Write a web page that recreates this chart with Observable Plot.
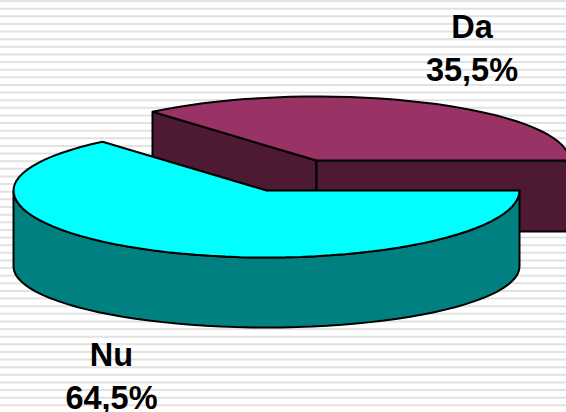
<!DOCTYPE html>
<html>
<head>
<meta charset="utf-8">
<script src="https://cdn.jsdelivr.net/npm/d3@7"></script>
<script src="https://cdn.jsdelivr.net/npm/@observablehq/plot@0.6"></script>
<style>html,body{margin:0;padding:0;background:#fff;overflow:hidden}svg{display:block}</style>
</head>
<body>
<div id="chart"></div>
<script>
const categories = ["Nu", "Da"];
const shares = [64.5, 35.5];

const W = 566, H = 412;
const stripeGap = H / 54;
const stripes = d3.range(54).map(i => 0.5 + i * stripeGap);

// Pie geometry
const rx = 253, ryFront = 67, ryBack = 64, depth = 76, ryBase = 61;
const cyanCenter = [266, 190];
const maroonCenter = [316, 160];
const maroonDepth = 71;

// The 3D view foreshortens angles a little
const view = t => t - 0.047 * Math.sin(2 * t);
const split = view(2 * Math.PI * shares[0] / 100);

const pt = ([cx, cy], t, rf = ryFront, rb = ryBack, dy = 0) => {
  const s = Math.sin(t);
  return {x: cx + rx * Math.cos(t), y: cy + dy + (s > 0 ? rf : rb) * s};
};
const arc = (c, a, b, rf, rb, dy) => {
  const n = Math.max(2, Math.round(Math.abs(b - a) / 0.06));
  return d3.range(n + 1).map(i => pt(c, a + (b - a) * i / n, rf, rb, dy));
};
const closed = p => [...p, p[0]];
const xy = (x, y) => ({x, y});

// Nu slice
const nuTop = closed([xy(...cyanCenter), ...arc(cyanCenter, 0, split)]);
const nuWall = closed([
  ...arc(cyanCenter, 0, Math.PI),
  ...arc(cyanCenter, Math.PI, 0, ryBase, ryBase, depth)
]);

// Da slice
const daTop = closed([xy(...maroonCenter), ...arc(maroonCenter, split, 2 * Math.PI)]);
const corner = pt(maroonCenter, split);
const daLeftWall = closed([
  corner, xy(...maroonCenter),
  xy(maroonCenter[0], maroonCenter[1] + maroonDepth),
  xy(corner.x, corner.y + maroonDepth)
]);
const east = pt(maroonCenter, 0);
const daRightWall = closed([
  xy(...maroonCenter), east,
  xy(east.x, east.y + maroonDepth),
  xy(maroonCenter[0], maroonCenter[1] + maroonDepth)
]);

const pct = v => v.toFixed(1).replace(".", ",") + "%";
const labels = [
  {text: `${categories[1]}\n${pct(shares[1])}`, x: 471.5, y: 45},
  {text: `${categories[0]}\n${pct(shares[0])}`, x: 111, y: 373}
];

const face = (data, fill) => Plot.line(data, {
  x: "x", y: "y", fill, stroke: "#000", strokeWidth: 2,
  strokeLinejoin: "miter", curve: "linear"
});

const chart = Plot.plot({
  width: W, height: H,
  margin: 0,
  x: {domain: [0, W], axis: null},
  y: {domain: [H, 0], axis: null},
  style: {background: "#fff"},
  marks: [
    Plot.ruleY(stripes, {stroke: "#e2e2e2", strokeWidth: 2}),
    face(daLeftWall, "#4d1933"),
    face(daRightWall, "#4d1933"),
    face(daTop, "#993366"),
    face(nuWall, "#008080"),
    face(nuTop, "#00ffff"),
    Plot.text(labels, {
      x: "x", y: "y", text: "text",
      fontFamily: "Liberation Sans, Arial, sans-serif",
      fontWeight: "bold", fontSize: 32.5, lineHeight: 43 / 32.5,
      fill: "#000", textAnchor: "middle"
    })
  ]
});
document.getElementById("chart").append(chart);
</script>
</body>
</html>
